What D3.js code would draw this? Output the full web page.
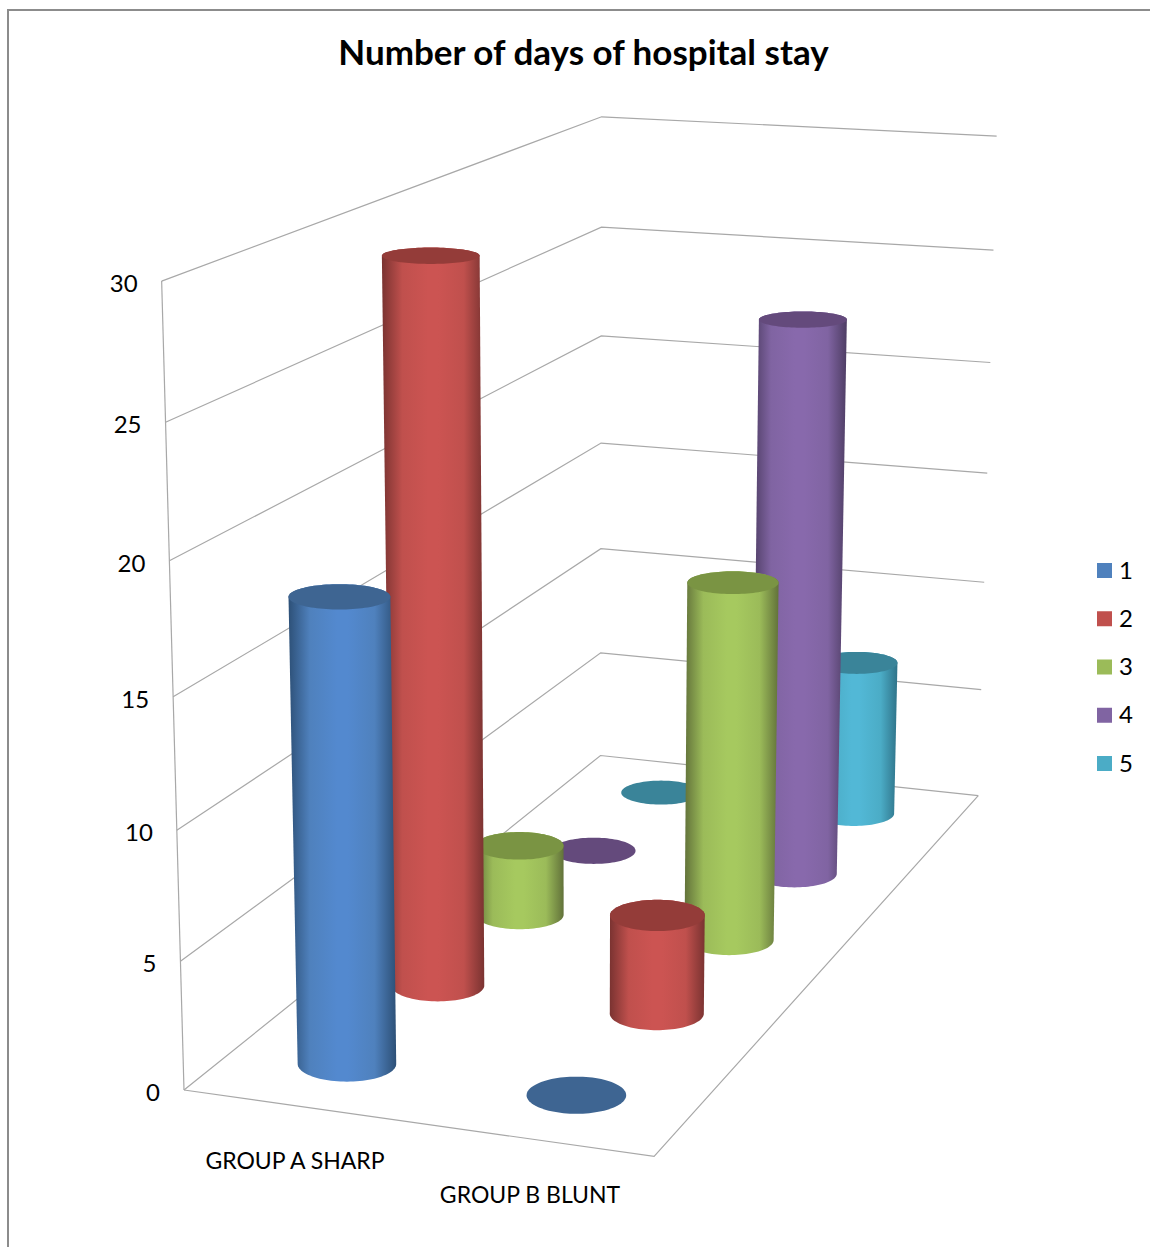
<!DOCTYPE html>
<html>
<head>
<meta charset="utf-8">
<script src="https://cdn.jsdelivr.net/npm/d3@7/dist/d3.min.js"></script>
<style>
html,body{margin:0;padding:0;background:#fff}
svg{display:block}
text{font-family:Lato,"Open Sans",sans-serif;fill:#000}
</style>
</head>
<body>
<svg id="chart" width="1150" height="1247"></svg>
<script>
// Chart data
const chartTitle = "Number of days of hospital stay";
const groups = ["GROUP A SHARP", "GROUP B BLUNT"];
const seriesNames = ["1", "2", "3", "4", "5"];
const series1 = [18, 0];
const series2 = [29, 4];
const series3 = [3, 15];
const series4 = [0, 24];
const series5 = [0, 7];
const valueTicks = [0, 5, 10, 15, 20, 25, 30];

// Series colours: base, highlight, edge shade, cap
const baseColors = ["#4f81bd", "#c0504d", "#9bbb59", "#8064a2", "#4bacc6"];
const lightColors = ["#5389cf", "#cc5452", "#a6c95f", "#8869ac", "#52b8d6"];
const edgeColors = ["#2d5077", "#7a3331", "#62723a", "#4e3d64", "#2f7389"];
const capColors = ["#3e6592", "#943c39", "#7a9443", "#644a7c", "#3a8499"];

const values = [series1, series2, series3, series4, series5];

const width = 1150, height = 1247;
const svg = d3.select("#chart");
const defs = svg.append("defs");

// Chart area frame
svg.append("path").attr("d", "M1150,10H8V1247").attr("fill", "none")
  .attr("stroke", "#8c8c8c").attr("stroke-width", 2);

svg.append("text").attr("x", 583.5).attr("y", 65).attr("text-anchor", "middle")
  .attr("font-size", 35).attr("font-weight", 700).text(chartTitle);

// Perspective box: solves a projective map from unit-box corners
// u = along categories, v = along series depth, w = along value axis
const box = {
  p000: [184, 1090], p100: [654, 1156], p110: [978, 796], p010: [601, 755],
  p001: [162, 281], p011: [601, 117], p111: [997, 136]
};

function solve(A, b) {
  const n = b.length, M = A.map((r, i) => [...r, b[i]]);
  for (let c = 0; c < n; c++) {
    let p = c;
    for (let r = c + 1; r < n; r++) if (Math.abs(M[r][c]) > Math.abs(M[p][c])) p = r;
    [M[c], M[p]] = [M[p], M[c]];
    for (let r = 0; r < n; r++) {
      if (r === c) continue;
      const f = M[r][c] / M[c][c];
      for (let k = c; k <= n; k++) M[r][k] -= f * M[c][k];
    }
  }
  return M.map((r, i) => r[n] / r[i]);
}

const corners = [
  [0, 0, 0, box.p000], [1, 0, 0, box.p100], [1, 1, 0, box.p110], [0, 1, 0, box.p010],
  [0, 0, 1, box.p001], [0, 1, 1, box.p011], [1, 1, 1, box.p111]
];
// Unknowns: a b c (d fixed by origin) for x, same for y, g h i for the divisor
const A = [], b = [];
corners.slice(1).forEach(([u, v, w, [X, Y]]) => {
  A.push([u, v, w, 0, 0, 0, -u * X, -v * X, -w * X]);
  b.push(X - box.p000[0]);
  A.push([0, 0, 0, u, v, w, -u * Y, -v * Y, -w * Y]);
  b.push(Y - box.p000[1]);
});
// Least squares over the over-determined system
const AtA = d3.range(9).map(i => d3.range(9).map(j => d3.sum(A, r => r[i] * r[j])));
const Atb = d3.range(9).map(i => d3.sum(A, (r, k) => r[i] * b[k]));
const m = solve(AtA, Atb);

function project(u, v, w) {
  const q = 1 + m[6] * u + m[7] * v + m[8] * w;
  return [
    (box.p000[0] * 1 + m[0] * u + m[1] * v + m[2] * w) / q,
    (box.p000[1] * 1 + m[3] * u + m[4] * v + m[5] * w) / q
  ];
}

const uScale = d3.scaleBand().domain(groups).range([0, 1]);
const vScale = d3.scaleBand().domain(seriesNames).range([0, 1]);
const wScale = d3.scaleLinear().domain([0, 30]).range([0, 1]);

// Walls and floor
const grid = svg.append("g").attr("fill", "none").attr("stroke", "#a8a8a8").attr("stroke-width", 1.2);
const line = d3.line();
valueTicks.forEach(t => {
  const w = wScale(t);
  grid.append("path").attr("d", line([project(0, 0, w), project(0, 1, w), project(1, 1, w)]));
});
grid.append("path").attr("d", line([project(0, 0, 0), project(0, 0, 1)]));
grid.append("path").attr("d", line([project(0, 0, 0), project(1, 0, 0), project(1, 1, 0)]));

// Value axis labels
svg.append("g").selectAll("text").data(valueTicks).join("text")
  .attr("x", d => project(0, 0, wScale(d))[0] - 24)
  .attr("y", d => project(0, 0, wScale(d))[1] + 11)
  .attr("text-anchor", "end").attr("font-size", 24).text(d => d);

// Category labels
const categoryLabelX = d3.scalePoint().domain(groups).range([295, 530]);
const categoryLabelY = d3.scalePoint().domain(groups).range([1169, 1203]);
svg.append("g").selectAll("text").data(groups).join("text")
  .attr("x", d => categoryLabelX(d)).attr("y", d => categoryLabelY(d))
  .attr("text-anchor", "middle").attr("font-size", 23).text(d => d);

// Cylinders, back rows first so nearer ones cover them.
// Each disc takes its size from the projected floor circle, kept level on screen.
const radiusU = 0.097, radiusV = 0.048, flatten = 0.86;
const angles = d3.range(0, 2 * Math.PI, Math.PI / 48);
function ring(cu, cv, w) {
  const pts = angles.map(a => project(cu + radiusU * Math.cos(a), cv + radiusV * Math.sin(a), w));
  const [x0, x1] = d3.extent(pts, p => p[0]);
  const [y0, y1] = d3.extent(pts, p => p[1]);
  const cx = (x0 + x1) / 2, cy = (y0 + y1) / 2;
  const rx = (x1 - x0) / 2, ry = flatten * (y1 - y0) / 2;
  return angles.map(a => [cx + rx * Math.cos(a), cy + ry * Math.sin(a)]);
}
const ringPath = d3.line().curve(d3.curveLinearClosed);

const marks = [];
seriesNames.forEach((s, si) => groups.forEach((g, gi) => {
  marks.push({ si, gi, g, s, value: values[si][gi] });
}));
marks.sort((a, b) => d3.descending(a.si, b.si) || d3.ascending(a.gi, b.gi));

const cylinders = svg.append("g");
marks.forEach((d, i) => {
  const cu = uScale(d.g) + uScale.bandwidth() / 2;
  const cv = vScale(d.s) + vScale.bandwidth() / 2;
  const base = ring(cu, cv, 0);
  const top = ring(cu, cv, wScale(d.value));
  if (d.value > 0) {
    const hull = d3.polygonHull(base.concat(top));
    const [x0, x1] = d3.extent(hull, p => p[0]);
    const id = "shade" + i;
    const grad = defs.append("linearGradient").attr("id", id)
      .attr("gradientUnits", "userSpaceOnUse")
      .attr("x1", x0).attr("x2", x1).attr("y1", 0).attr("y2", 0);
    [[0, edgeColors], [0.2, baseColors], [0.45, lightColors], [0.55, lightColors], [0.8, baseColors], [1, edgeColors]]
      .forEach(([o, c]) => grad.append("stop").attr("offset", o).attr("stop-color", c[d.si]));
    cylinders.append("path").attr("d", ringPath(hull)).attr("fill", `url(#${id})`);
  }
  cylinders.append("path").attr("d", ringPath(top)).attr("fill", capColors[d.si]);
});

// Legend
const legendY = d3.scalePoint().domain(seriesNames).range([570.5, 763.5]);
const legend = svg.append("g").selectAll("g").data(seriesNames).join("g")
  .attr("transform", d => `translate(0,${legendY(d)})`);
legend.append("rect").attr("x", 1097).attr("y", -7.5).attr("width", 15).attr("height", 15)
  .attr("fill", (d, i) => baseColors[i]);
legend.append("text").attr("x", 1119).attr("y", 8).attr("font-size", 24).text(d => d);
</script>
</body>
</html>
